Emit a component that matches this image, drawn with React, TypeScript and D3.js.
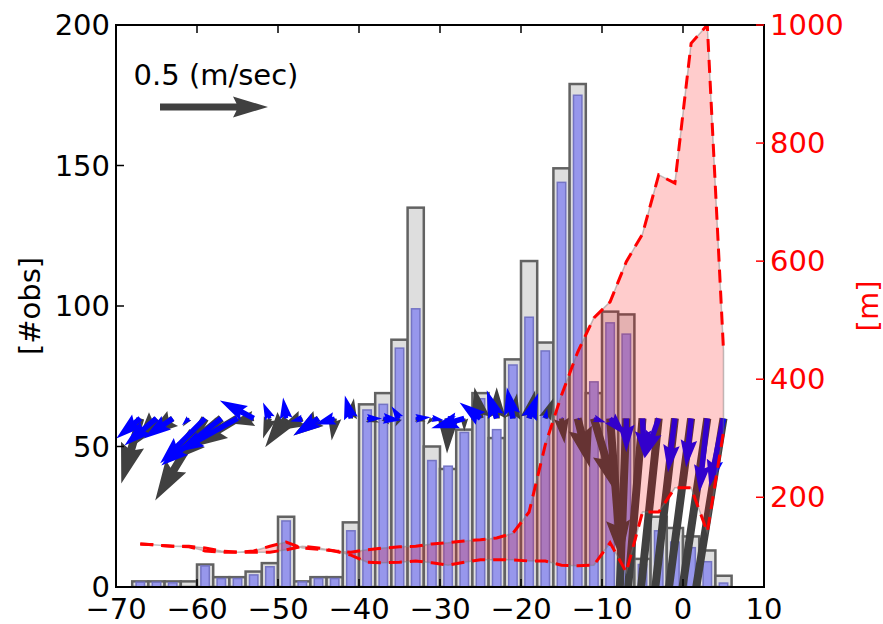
import React from 'react';
import * as d3 from 'd3';

// ---------- data ----------
const binCenters = [-67, -65, -63, -61, -59, -57, -55, -53, -51, -49, -47, -45, -43, -41, -39, -37, -35, -33, -31, -29, -27, -25, -23, -21, -19, -17, -15, -13, -11, -9, -7, -5, -3, -1, 1, 3, 5];
const grayCounts = [2, 2, 2, 2, 8, 3.5, 3.5, 5.5, 8.5, 25, 2, 3.5, 3.5, 23, 65, 69, 88, 135, 50, 42, 56, 69, 53, 81, 116, 87, 149, 179, 69, 98, 97, 10, 25, 21, 18, 13, 4];
const blueCounts = [1.7, 1.7, 1.5, 0, 7.5, 3, 3, 4.3, 7.2, 23.5, 1.8, 3, 3, 20, 63, 65, 85, 99, 45, 43, 55, 67, 56, 79, 96, 84, 144, 175, 73, 94, 90, 8, 20, 16, 14, 9, 1.4];
// mixed-layer heights [m], two series
const heightA = [121, 119, 117, 116, 109, 107, 107, 109, 117, 124, 114, 112, 109, 107, 111, 114, 116, 117, 121, 123, 126, 128, 131, 139, 175, 289, 373, 446, 504, 531, 599, 646, 746, 732, 969, 1000, 449];
const heightB = [121, 119, 117, 117, 114, 109, 107, 107, 107, 111, 117, 114, 109, 102, 90, 89, 90, 92, 89, 85, 90, 94, 94, 94, 92, 92, 85, 84, 85, 123, 73, 175, 175, 216, 216, 141, 311];
// wind vectors [m/s] at #obs = 60
const grayU = [-0.088, -0.093, -0.116, -0.028, -0.231, -0.255, -0.231, -0.116, -0.032, -0.097, -0.116, -0.116, -0.014, 0.014, 0.056, 0.028, -0.019, 0.046, -0.023, -0.005, 0, -0.028, 0, 0.019, 0.028, 0.037, 0.014, 0.056, 0.102, 0.051, -0.046, -0.102, -0.125, -0.139, -0.157, -0.176, -0.194];
const grayV = [-0.301, -0.116, -0.083, -0.037, -0.38, -0.208, -0.139, -0.023, -0.093, -0.134, -0.056, -0.079, -0.102, 0.093, -0.019, -0.028, -0.037, -0.014, -0.028, -0.162, -0.06, 0.144, 0.144, 0.116, 0.13, 0.093, -0.116, -0.227, -0.343, -0.657, -1.2, -1.2, -1.2, -1.2, -1.2, -1.2, -1.2];
const blueU = [-0.111, -0.148, -0.134, -0.032, -0.208, -0.278, -0.282, -0.157, -0.032, -0.014, -0.056, -0.116, -0.093, -0.028, 0.069, 0.083, -0.037, 0.069, 0.056, 0.037, -0.153, -0.097, -0.046, -0.028, 0.042, 0.009, 0.009, 0.014, 0.056, 0.074, 0, 0.009, -0.065, -0.032, -0.023, -0.037, -0.065];
const blueV = [-0.093, -0.125, -0.093, -0.032, -0.208, -0.218, -0.157, 0.083, 0.074, 0.097, -0.014, -0.079, -0.028, 0.106, 0, -0.009, 0.056, 0.005, -0.009, 0.009, -0.046, 0.074, 0.13, 0.144, 0.116, 0.046, 0.005, -0.009, -0.019, -0.079, -0.157, -0.185, -0.185, -0.25, -0.227, -0.343, -0.319];
const quiverLevel = 60;
const keySpeed = 0.5;
const xTicks = [-70, -60, -50, -40, -30, -20, -10, 0, 10];
const yLeftTicks = [0, 50, 100, 150, 200];
const yRightTicks = [200, 400, 600, 800, 1000];

// ---------- layout ----------
const W = 883, H = 624;
const L = 116, R = 764, T = 25, B = 587;
const FONT = 'DejaVu Sans, sans-serif';
const FS = 29;

const x = d3.scaleLinear().domain([-70, 10]).range([L, R]);
const yL = d3.scaleLinear().domain([0, 200]).range([B, T]);
const yR = d3.scaleLinear().domain([48, 1000]).range([B, T]);
const pxPerMs = 216;

function arrowPath(x0: number, y0: number, dx: number, dy: number, w: number): string {
  const len = Math.hypot(dx, dy);
  const hl = 5, hal = 4.5, hw = 3;
  const Lw = len / w;
  let pts: number[][];
  if (Lw >= hl) {
    pts = [[0, 0.5], [Lw - hal, 0.5], [Lw - hl, hw / 2], [Lw, 0], [Lw - hl, -hw / 2], [Lw - hal, -0.5], [0, -0.5]];
  } else {
    const s = Lw / hl;
    pts = [[0, 0.5], [hl - hal, 0.5], [0, hw / 2], [hl, 0], [0, -hw / 2], [hl - hal, -0.5], [0, -0.5]].map(([a, b]) => [a * s, b * s]);
  }
  const ang = Math.atan2(dy, dx);
  const c = Math.cos(ang), s = Math.sin(ang);
  return 'M' + pts.map(([a, b]) => `${(x0 + (a * c - b * s) * w).toFixed(2)},${(y0 + (a * s + b * c) * w).toFixed(2)}`).join('L') + 'Z';
}

export default function App() {
  const bw = x(2) - x(0);
  const areaGen = d3.area<number>()
    .x((_, i) => x(binCenters[i]))
    .y0((_, i) => yR(heightB[i]))
    .y1((_, i) => yR(heightA[i]));
  const lineA = d3.line<number>().x((_, i) => x(binCenters[i])).y((d) => yR(d));
  const y60 = yL(quiverLevel);

  return (
    <svg width={W} height={H} style={{ display: 'block', position: 'absolute', left: 0, top: 0, background: '#fff' }} fontFamily={FONT}>
      <defs>
        <clipPath id="plot"><rect x={L} y={T} width={R - L} height={B - T} /></clipPath>
      </defs>
      <rect x={0} y={0} width={W} height={H} fill="#fff" />
      <g clipPath="url(#plot)">
        {binCenters.map((c, i) => (
          <rect key={'g' + i} x={x(c - 1)} y={yL(grayCounts[i])} width={bw} height={B - yL(grayCounts[i])}
            fill="#dedede" stroke="#626262" strokeWidth={2.5} />
        ))}
        {binCenters.map((c, i) => blueCounts[i] > 0 ? (
          <rect key={'b' + i} x={x(c - 0.52)} y={yL(blueCounts[i])} width={x(0.52) - x(-0.52)} height={B - yL(blueCounts[i])}
            fill="#9797ec" stroke="#7474c4" strokeWidth={1.5} />
        ) : null)}
        {binCenters.map((c, i) => (
          <path key={'ga' + i} d={arrowPath(x(c), y60, grayU[i] * pxPerMs, -grayV[i] * pxPerMs, 8)} fill="#404040" />
        ))}
        {binCenters.map((c, i) => (
          <path key={'ba' + i} d={arrowPath(x(c), y60, blueU[i] * pxPerMs, -blueV[i] * pxPerMs, 5.5)} fill="#0000ff" />
        ))}
        <path d={areaGen(heightA) || ''} fill="rgba(255,0,0,0.2)" stroke="rgba(120,120,120,0.45)" strokeWidth={1.5} />
        <path d={lineA(heightA) || ''} fill="none" stroke="#ff0000" strokeWidth={3} strokeDasharray="13 8" />
        <path d={lineA(heightB) || ''} fill="none" stroke="#ff0000" strokeWidth={3} strokeDasharray="13 8" />
      </g>
      {/* quiver key */}
      <path d={arrowPath(160, 107, keySpeed * pxPerMs, 0, 7)} fill="#404040" />
      <text x={216} y={85} fontSize={FS} textAnchor="middle" fill="#000">0.5 (m/sec)</text>

      {/* spines */}
      <rect x={L} y={T} width={R - L} height={B - T} fill="none" stroke="#000" strokeWidth={2} />
      {xTicks.map((t) => (
        <g key={'xt' + t}>
          <line x1={x(t)} x2={x(t)} y1={B} y2={B - 8} stroke="#000" strokeWidth={1.5} />
          <line x1={x(t)} x2={x(t)} y1={T} y2={T + 8} stroke="#000" strokeWidth={1.5} />
          <text x={x(t)} y={619} fontSize={FS} textAnchor="middle" fill="#000">{t < 0 ? '\u2212' + Math.abs(t) : String(t)}</text>
        </g>
      ))}
      {yLeftTicks.map((t) => (
        <g key={'yl' + t}>
          <line x1={L} x2={L + 8} y1={yL(t)} y2={yL(t)} stroke="#000" strokeWidth={1.5} />
          <text x={L - 6} y={yL(t) + 10} fontSize={FS} textAnchor="end" fill="#000">{t}</text>
        </g>
      ))}
      {yRightTicks.map((t) => (
        <g key={'yr' + t}>
          <line x1={R} x2={R - 8} y1={yR(t)} y2={yR(t)} stroke="#ff0000" strokeWidth={1.5} />
          <text x={R + 6} y={yR(t) + 10} fontSize={FS} textAnchor="start" fill="#ff0000">{t}</text>
        </g>
      ))}
      <text transform={`translate(40,${(T + B) / 2}) rotate(-90)`} fontSize={FS} textAnchor="middle" fill="#000">[#obs]</text>
      <text transform={`translate(878,${(T + B) / 2}) rotate(-90)`} fontSize={FS} textAnchor="middle" fill="#ff0000">[m]</text>
    </svg>
  );
}
